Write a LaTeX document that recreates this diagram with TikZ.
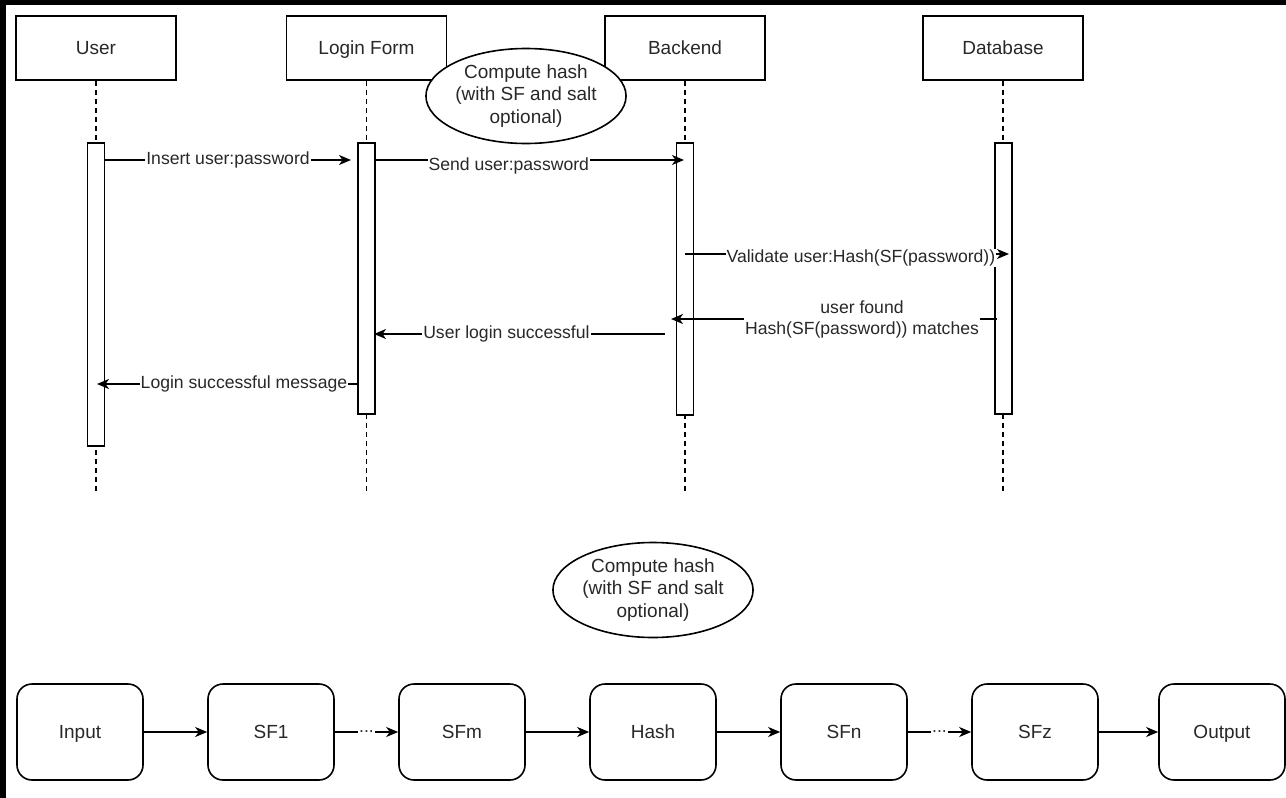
\documentclass[tikz,border=0pt]{standalone}
\usepackage{fontspec}
\setmainfont{Liberation Sans}
\usetikzlibrary{shapes.geometric,arrows.meta}
\definecolor{txt}{RGB}{40,40,40}
\begin{document}
\begin{tikzpicture}[x=1pt,y=-1pt,
  hdr/.style={draw, line width=1.6pt, fill=white, minimum width=160pt, minimum height=64pt, inner sep=0pt, text height=13.6pt, text depth=0pt, font=\fontsize{19}{22.5}\selectfont, text=txt},
  actbar/.style={draw, line width=1.6pt, fill=white, minimum width=17pt, inner sep=0pt},
  life/.style={line width=1.6pt, dash pattern=on 5pt off 4pt},
  msg/.style={line width=1.6pt, -{Stealth[length=12pt,width=10pt,inset=3.5pt]}},
  lbl/.style={fill=white, inner xsep=1pt, inner ysep=1pt, font=\fontsize{17.6}{21}\selectfont, text=txt, align=center},
  ell/.style={ellipse, draw, fill=white, line width=1.6pt, minimum width=162pt, minimum height=95pt, inner sep=0pt, align=center, font=\fontsize{19}{22.5}\selectfont, text=txt},
  rbox/.style={draw, fill=white, rounded corners=15pt, line width=1.6pt, minimum width=126pt, minimum height=96pt, inner sep=0pt, text height=13.6pt, text depth=0pt, font=\fontsize{19}{22.5}\selectfont, text=txt}
]
\useasboundingbox (0,0) rectangle (1286,798);
\fill[black] (0,0) rectangle (1286,798);
\fill[white] (6,5) rectangle (1286,798);

% headers
\node[hdr] (uh) at (96,48) {User};
\node[hdr] (lh) at (366.5,48) {Login Form};
\node[hdr] (bh) at (685,48) {Backend};
\node[hdr] (dh) at (1003,48) {Database};

% lifeline ends
\coordinate (ue) at (96,493);
\coordinate (le) at (366.5,493);
\coordinate (be) at (685,493);
\coordinate (de) at (1003,493);
\draw[life] (uh.south) -- (ue);
\draw[life] (lh.south) -- (le);
\draw[life] (bh.south) -- (be);
\draw[life] (dh.south) -- (de);

% activation bars
\node[actbar, minimum height=303pt] (ub) at (96,294.5) {};
\node[actbar, minimum height=271pt] (lb) at (366.5,278.5) {};
\node[actbar, minimum height=272pt] (bb) at (685,279) {};
\node[actbar, minimum height=271pt] (db) at (1003.5,278.5) {};

% message end points
\coordinate (m1a) at (105,160);
\coordinate (m1b) at (351,160);
\coordinate (m2a) at (375,160);
\coordinate (m2b) at (684,160);
\coordinate (m3a) at (685,254);
\coordinate (m3b) at (1009,254);
\coordinate (m4a) at (997,319);
\coordinate (m4b) at (671,319);
\coordinate (m5a) at (665,334);
\coordinate (m5b) at (374,334);
\coordinate (m6a) at (358,384);
\coordinate (m6b) at (97,384);

\draw[msg] (m1a) -- node[lbl, pos=0.5] {Insert user:password} (m1b);
\draw[msg] (m2a) -- node[lbl, pos=0.433, yshift=-6pt] {Send user:password} (m2b);
\draw[msg] (m3a) -- node[lbl, pos=0.543, yshift=-4pt] {Validate user:Hash(SF(password))} (m3b);
\draw[msg] (m4a) -- node[lbl, pos=0.414] {user found\\Hash(SF(password)) matches} (m4b);
\draw[msg] (m5a) -- node[lbl, pos=0.545] {User login successful} (m5b);
\draw[msg] (m6a) -- node[lbl, pos=0.437] {Login successful message} (m6b);

% note ellipse (top)
\node[ell] (note1) at (526,96) {Compute hash\\(with SF and salt\\optional)};

% bottom flow
\node[ell] (note2) at (653,590) {Compute hash\\(with SF and salt\\optional)};
\node[rbox] (in) at (80,732) {Input};
\node[rbox] (sf1) at (271,732) {SF1};
\node[rbox] (sfm) at (462,732) {SFm};
\node[rbox] (hash) at (653,732) {Hash};
\node[rbox] (sfn) at (844,732) {SFn};
\node[rbox] (sfz) at (1035,732) {SFz};
\node[rbox] (out) at (1222,732) {Output};

\draw[msg] (in) -- (sf1);
\draw[msg] (sf1) -- node[lbl, pos=0.5] {...} (sfm);
\draw[msg] (sfm) -- (hash);
\draw[msg] (hash) -- (sfn);
\draw[msg] (sfn) -- node[lbl, pos=0.5] {...} (sfz);
\draw[msg] (sfz) -- (out);
\end{tikzpicture}
\end{document}
